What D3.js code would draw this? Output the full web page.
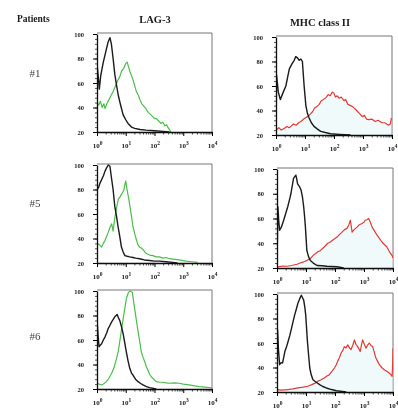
<!DOCTYPE html>
<html>
<head>
<meta charset="utf-8">
<script src="https://cdn.jsdelivr.net/npm/d3@7"></script>
<style>
  html, body { margin: 0; padding: 0; background: #fff; }
  svg { display: block; }
  text { font-family: "Liberation Serif", "DejaVu Serif", serif; }
</style>
</head>
<body>
<div id="chart"></div>
<script>
// column titles and row labels
const columns = ["LAG-3", "MHC class II"];
const patients = ["#1", "#5", "#6"];
const yTicks = [20, 40, 60, 80, 100];
const xTicks = [1, 10, 100, 1000, 10000];

// histograms: [log10 fluorescence, % of max]
const lag1Black = [[0,20],[0,76],[0.04,66],[0.08,55],[0.13,66],[0.22,77],[0.3,85],[0.38,93],[0.45,97],[0.5,92],[0.56,80],[0.62,67],[0.68,58],[0.74,50],[0.82,42],[0.91,34],[1.0,30],[1.08,27],[1.2,24],[1.31,23],[1.5,22],[1.71,21.5],[2.0,21],[2.3,20.5],[2.52,20]];
const lag1Green = [[0,20],[0,44],[0.06,42],[0.12,45],[0.18,40],[0.24,43],[0.28,39],[0.36,44],[0.45,48],[0.56,53],[0.65,58],[0.72,62],[0.79,65],[0.86,70],[0.93,72],[1.0,76],[1.05,77],[1.1,73],[1.15,69],[1.2,66],[1.26,62],[1.32,57],[1.37,53],[1.44,50],[1.5,46],[1.56,43],[1.6,42],[1.7,39],[1.78,36],[1.83,35],[1.92,33],[2.0,31],[2.06,31],[2.15,29],[2.22,27],[2.29,28],[2.36,25],[2.42,26],[2.46,24],[2.52,22],[2.57,20]];
const mhc1Black = [[0,20],[0.02,69],[0.08,55],[0.15,49],[0.25,55],[0.34,60],[0.4,67],[0.46,74],[0.55,78],[0.63,81],[0.68,84],[0.74,83],[0.8,81],[0.86,82],[0.91,80],[0.97,60],[1.03,44],[1.08,38],[1.14,34],[1.22,30],[1.31,27],[1.42,25],[1.54,23],[1.7,22],[1.88,21],[2.2,20.5],[2.57,20]];
const mhc1Red = [[0,20],[0.01,24],[0.1,26],[0.18,24],[0.29,25.5],[0.38,27],[0.45,26],[0.51,27],[0.6,29],[0.7,28],[0.78,30],[0.86,31],[0.95,33],[1.02,34],[1.09,35],[1.18,37],[1.26,39],[1.33,42],[1.4,43],[1.49,45],[1.56,48],[1.64,49],[1.72,50.5],[1.8,53],[1.87,52],[1.94,55],[2.0,54],[2.05,51],[2.11,52],[2.18,50],[2.25,51],[2.34,48],[2.4,49],[2.48,45],[2.57,44],[2.65,43],[2.74,41],[2.82,39],[2.9,37],[2.97,35],[3.05,36],[3.12,33],[3.2,32.5],[3.3,33],[3.42,31],[3.52,32],[3.65,30],[3.75,30],[3.88,28],[3.94,29],[3.98,34]];

const lag5Black = [[0,20],[0.01,80],[0.06,82],[0.1,85],[0.16,88],[0.22,91],[0.28,95],[0.33,97.5],[0.39,100],[0.45,99],[0.5,90],[0.56,80],[0.62,66],[0.68,58],[0.73,50],[0.79,42],[0.85,33],[0.91,29],[0.97,26],[1.05,25.5],[1.14,25],[1.25,24.5],[1.35,24],[1.48,23.5],[1.65,22.5],[1.83,22],[2.0,21.5],[2.17,21.5],[2.4,21],[2.63,20.5],[2.8,20]];
const lag5Green = [[0,20],[0.01,36],[0.08,35],[0.16,33],[0.22,36],[0.28,38.5],[0.34,42],[0.39,45],[0.45,49],[0.51,52],[0.56,46],[0.62,57],[0.68,65],[0.74,72],[0.8,74],[0.85,76],[0.9,78],[0.93,79],[0.97,84],[1.0,87],[1.05,79],[1.1,73],[1.14,67],[1.2,58],[1.25,50],[1.31,44],[1.37,39],[1.42,35],[1.48,33],[1.55,32],[1.6,31],[1.7,28],[1.83,26.5],[1.95,26],[2.05,25],[2.17,25],[2.3,24],[2.4,24.5],[2.52,23.5],[2.7,23],[2.86,22.5],[3.0,22],[3.09,21.5],[3.3,21],[3.5,20.5]];
const mhc5Black = [[0,20],[0.03,69.5],[0.06,58],[0.09,50.5],[0.15,53],[0.23,58.6],[0.3,64],[0.37,69.5],[0.43,75],[0.48,80],[0.53,87],[0.57,92.4],[0.62,94],[0.65,95],[0.68,92],[0.71,88],[0.77,86],[0.83,83],[0.88,77],[0.92,69.5],[0.95,62],[0.98,53],[1.03,34],[1.09,29],[1.15,26],[1.25,24],[1.38,22],[1.55,21.8],[1.72,21.4],[2.07,21],[2.3,20]];
const mhc5Red = [[0,20],[0.02,21],[0.2,21.5],[0.34,21.4],[0.5,22],[0.69,23],[0.8,24],[0.92,25],[1.03,26],[1.15,27.6],[1.24,30],[1.32,31.6],[1.4,33],[1.49,34],[1.58,36],[1.67,38],[1.75,40],[1.84,41],[1.95,43],[2.07,45],[2.15,47],[2.24,49],[2.33,51],[2.41,52],[2.48,55],[2.53,58.6],[2.59,49],[2.66,51],[2.76,53],[2.84,55],[2.93,56],[3.0,57],[3.04,58.6],[3.1,59],[3.16,60],[3.22,57],[3.28,53],[3.36,50],[3.45,46.5],[3.53,44],[3.62,41],[3.7,39],[3.79,37],[3.88,33],[3.97,30],[4.0,28]];

const lag6Black = [[0,20],[0.01,73.4],[0.04,63],[0.07,54.5],[0.12,56],[0.16,57],[0.22,60],[0.28,62.6],[0.34,66],[0.39,69.4],[0.45,72],[0.51,74.8],[0.57,77],[0.62,78.9],[0.7,80.8],[0.75,78],[0.79,76],[0.85,71],[0.91,65],[0.97,57],[1.02,50.4],[1.08,43],[1.14,36.9],[1.2,33],[1.25,31.4],[1.34,28],[1.43,26],[1.52,24.5],[1.6,23.3],[1.72,22],[1.83,21.1],[2.06,20]];
const lag6Green = [[0,20],[0.01,24.7],[0.08,24],[0.16,23.3],[0.25,24.5],[0.33,26],[0.42,29],[0.51,32.8],[0.6,38],[0.68,45],[0.74,51],[0.79,58.5],[0.85,68],[0.91,77.5],[0.97,86],[1.02,93.8],[1.08,98],[1.14,100],[1.23,99],[1.27,92],[1.31,85.6],[1.37,76],[1.43,66.7],[1.49,58],[1.54,50.4],[1.6,46],[1.66,42.3],[1.72,38],[1.77,35.5],[1.83,32],[1.89,30],[1.97,28],[2.06,26],[2.17,25.5],[2.29,25.5],[2.4,25],[2.52,24.7],[2.7,25],[2.86,24.7],[3.0,24],[3.2,23.3],[3.4,22.5],[3.55,22],[3.75,21.5],[4.0,21]];
const mhc6Black = [[0,20],[0.02,70.7],[0.05,55],[0.09,42.3],[0.14,44],[0.19,43.6],[0.23,48],[0.27,53],[0.33,57],[0.38,61],[0.44,66],[0.5,72],[0.55,77],[0.61,83],[0.67,88],[0.72,92.4],[0.78,96],[0.84,99],[0.88,97],[0.92,95],[0.96,89],[0.99,83],[1.02,72],[1.05,61],[1.09,50],[1.13,39.6],[1.18,34],[1.24,30],[1.35,28],[1.47,26],[1.58,24.5],[1.7,23.3],[1.88,22],[2.05,21],[2.39,20]];
const mhc6Red = [[0,20],[0.02,22],[0.15,21.5],[0.37,22],[0.55,22.5],[0.71,23.3],[0.9,24],[1.06,24.7],[1.2,26],[1.3,27],[1.4,28.7],[1.52,30],[1.63,31.4],[1.72,33],[1.8,34],[1.9,37],[1.98,39.6],[2.04,42],[2.09,45],[2.15,48],[2.21,51.8],[2.27,54],[2.32,57],[2.38,56],[2.44,58.5],[2.5,56],[2.55,54.5],[2.61,58],[2.67,62.6],[2.72,59],[2.78,57],[2.83,55],[2.87,53],[2.91,58],[2.95,62.6],[3.01,59],[3.07,55.8],[3.12,58],[3.18,60],[3.24,58],[3.3,57],[3.36,52],[3.41,47.7],[3.47,45],[3.53,42.3],[3.61,40],[3.7,38.2],[3.78,37],[3.87,35.5],[3.93,34],[3.97,32.8],[3.99,45],[4.0,55.8]];

// panel layout: left/right, y of 100 and y of 20
const panels = [
  {x0: 97,  x1: 212, yTop: 34,  yBot: 132, ctrl: lag1Black, stain: lag1Green, color: "#4cbd4c"},
  {x0: 276, x1: 392, yTop: 37,  yBot: 135, ctrl: mhc1Black, stain: mhc1Red,   color: "#e23a36"},
  {x0: 97,  x1: 212, yTop: 165, yBot: 263, ctrl: lag5Black, stain: lag5Green, color: "#4cbd4c"},
  {x0: 277, x1: 393, yTop: 169, yBot: 268, ctrl: mhc5Black, stain: mhc5Red,   color: "#e23a36"},
  {x0: 97,  x1: 212, yTop: 291, yBot: 389, ctrl: lag6Black, stain: lag6Green, color: "#4cbd4c"},
  {x0: 277, x1: 393, yTop: 294, yBot: 392, ctrl: mhc6Black, stain: mhc6Red,   color: "#e23a36"}
];

const W = 398, H = 409;
const svg = d3.select("#chart").append("svg")
  .attr("width", W).attr("height", H);

svg.append("defs").append("filter").attr("id", "soft")
  .append("feGaussianBlur").attr("stdDeviation", 0.35);

const root = svg.append("g").attr("filter", "url(#soft)");

// headers
root.append("text").attr("x", 17).attr("y", 22)
  .attr("font-size", 9.5).attr("font-weight", "bold").attr("fill", "#1a1a1a")
  .text("Patients");
root.append("text").attr("x", 155).attr("y", 23).attr("text-anchor", "middle")
  .attr("font-size", 10.5).attr("font-weight", "bold").attr("fill", "#1a1a1a")
  .text(columns[0]);
root.append("text").attr("x", 320).attr("y", 26).attr("text-anchor", "middle")
  .attr("font-size", 10.5).attr("font-weight", "bold").attr("fill", "#1a1a1a")
  .text(columns[1]);

// row labels
const rowY = [77, 207, 340];
patients.forEach((p, i) => {
  root.append("text").attr("x", 35).attr("y", rowY[i]).attr("text-anchor", "middle")
    .attr("font-size", 11).attr("fill", "#444").text(p);
});

const minorX = [];
[1, 10, 100, 1000].forEach(b => { for (let k = 2; k <= 9; k++) minorX.push(b * k); });
const minorY = d3.range(20, 101, 4);

panels.forEach((p, i) => {
  const x = d3.scaleLog().domain([1, 10000]).range([p.x0, p.x1]);
  const y = d3.scaleLinear().domain([20, 100]).range([p.yBot, p.yTop]);
  const g = root.append("g");

  const clipId = "clip" + i;
  svg.select("defs").append("clipPath").attr("id", clipId)
    .append("rect").attr("x", p.x0).attr("y", p.yTop - 2)
    .attr("width", p.x1 - p.x0).attr("height", p.yBot - p.yTop + 2);

  // frame top/right
  g.append("path")
    .attr("d", `M${p.x0},${p.yTop - 1}H${p.x1}V${p.yBot}`)
    .attr("fill", "none").attr("stroke", "#777").attr("stroke-width", 1);

  const line = d3.line().x(d => x(Math.pow(10, d[0]))).y(d => y(d[1]));
  const area = d3.area().x(d => x(Math.pow(10, d[0]))).y0(y(20)).y1(d => y(d[1]));
  const curves = g.append("g").attr("clip-path", `url(#${clipId})`);

  if (i % 2 === 1) {
    curves.append("path").datum(p.stain).attr("d", area)
      .attr("fill", "#e4f5f5").attr("opacity", 0.5);
  }
  curves.append("path").datum(p.stain).attr("d", line)
    .attr("fill", "none").attr("stroke", p.color).attr("stroke-width", 1.2)
    .attr("stroke-linejoin", "round");
  curves.append("path").datum(p.ctrl).attr("d", line)
    .attr("fill", "none").attr("stroke", "#1a1a1a").attr("stroke-width", 1.4)
    .attr("stroke-linejoin", "round");

  // y axis
  const yMinor = g.append("g").attr("transform", `translate(${p.x0},0)`)
    .call(d3.axisLeft(y).tickValues(minorY).tickSize(2).tickFormat(""));
  yMinor.select(".domain").remove();
  yMinor.selectAll("line").attr("stroke", "#555");
  const yAx = g.append("g").attr("transform", `translate(${p.x0},0)`)
    .call(d3.axisLeft(y).tickValues(yTicks).tickSize(4).tickPadding(9).tickSizeOuter(0));
  yAx.select(".domain").attr("stroke", "#111").attr("stroke-width", 1.3);
  yAx.selectAll("text").attr("font-size", 6.5).attr("font-weight", "bold")
    .attr("fill", "#222").attr("font-family", "Liberation Serif, serif");

  // x axis
  const xMinor = g.append("g").attr("transform", `translate(0,${p.yBot})`)
    .call(d3.axisBottom(x).tickValues(minorX).tickSize(2.5).tickFormat(""));
  xMinor.select(".domain").remove();
  xMinor.selectAll("line").attr("stroke", "#444");
  const xAx = g.append("g").attr("transform", `translate(0,${p.yBot})`)
    .call(d3.axisBottom(x).tickValues(xTicks).tickSize(4).tickPadding(7).tickSizeOuter(0)
      .tickFormat(() => "10"));
  xAx.select(".domain").attr("stroke", "#111").attr("stroke-width", 1.3);
  xAx.selectAll("text").attr("font-size", 7).attr("font-weight", "bold")
    .attr("fill", "#222").attr("font-family", "Liberation Serif, serif")
    .each(function(d) {
      d3.select(this).append("tspan").attr("dy", -3).attr("font-size", 5.5)
        .text(Math.round(Math.log10(d)));
    });
});
</script>
</body>
</html>
